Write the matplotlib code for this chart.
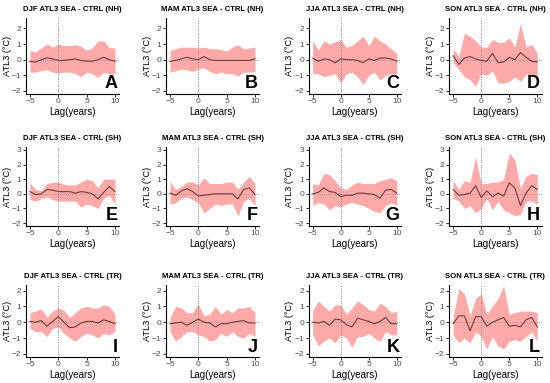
import matplotlib
matplotlib.use("Agg")
import matplotlib.pyplot as plt
import numpy as np

plt.rcParams['font.family'] = ['Liberation Sans', 'DejaVu Sans']

lags = list(range(-5, 11))

titles = ["DJF ATL3 SEA - CTRL (NH)", "MAM ATL3 SEA - CTRL (NH)", "JJA ATL3 SEA - CTRL (NH)", "SON ATL3 SEA - CTRL (NH)",
          "DJF ATL3 SEA - CTRL (SH)", "MAM ATL3 SEA - CTRL (SH)", "JJA ATL3 SEA - CTRL (SH)", "SON ATL3 SEA - CTRL (SH)",
          "DJF ATL3 SEA - CTRL (TR)", "MAM ATL3 SEA - CTRL (TR)", "JJA ATL3 SEA - CTRL (TR)", "SON ATL3 SEA - CTRL (TR)"]
letters = ["A", "B", "C", "D", "E", "F", "G", "H", "I", "J", "K", "L"]

mean_A = [-0.12, -0.15, 0.0, 0.12, 0.05, -0.05, -0.05, 0.0, 0.05, -0.05, -0.1, -0.1, 0.0, 0.15, 0.0, -0.1]
upper_A = [0.6, 0.5, 0.75, 1.0, 0.8, 1.0, 0.9, 0.9, 0.95, 0.85, 0.6, 0.75, 1.2, 1.2, 0.75, 0.75]
lower_A = [-0.8, -0.8, -0.7, -0.65, -0.8, -0.85, -0.8, -0.8, -0.9, -1.1, -0.8, -0.9, -1.15, -0.8, -0.9, -0.9]

mean_B = [-0.12, -0.05, 0.05, 0.15, 0.05, 0.0, 0.2, 0.0, -0.05, -0.05, -0.05, -0.05, -0.05, -0.05, -0.05, 0.05]
upper_B = [0.6, 0.7, 0.8, 0.8, 0.8, 0.75, 0.8, 0.7, 0.7, 0.65, 0.55, 0.8, 0.95, 0.7, 0.75, 0.8]
lower_B = [-0.8, -0.7, -0.6, -0.65, -0.75, -0.6, -0.5, -0.75, -0.9, -0.8, -0.9, -0.9, -1.05, -0.8, -0.8, -0.75]

mean_C = [0.1, -0.1, 0.05, 0.0, -0.2, 0.05, 0.0, 0.0, -0.05, -0.2, 0.05, -0.05, 0.1, 0.1, 0.05, -0.1]
upper_C = [1.2, 0.6, 1.2, 1.0, 1.15, 1.25, 0.8, 0.9, 1.2, 1.5, 0.9, 1.5, 1.2, 1.0, 0.7, 0.4]
lower_C = [-0.9, -0.9, -1.1, -1.0, -0.9, -1.5, -0.9, -0.8, -1.1, -1.6, -1.0, -0.8, -1.3, -1.0, -0.9, -0.9]

mean_D = [0.25, -0.3, 0.1, 0.2, 0.05, -0.05, -0.1, 0.4, -0.2, -0.15, 0.15, 0.0, 0.45, 0.15, -0.1, -0.15]
upper_D = [0.7, 0.2, 1.7, 1.5, 1.2, 0.8, 0.8, 1.3, 1.1, 1.1, 1.4, 0.8, 2.3, 0.8, 1.0, 0.4]
lower_D = [-0.2, -0.6, -1.1, -1.3, -1.7, -0.9, -1.0, -0.7, -1.5, -1.5, -1.4, -1.1, -1.4, -0.9, -1.0, -1.2]

mean_E = [0.15, -0.05, 0.0, 0.3, 0.25, 0.15, 0.15, 0.15, 0.05, 0.15, 0.1, 0.0, -0.35, 0.1, 0.5, 0.15]
upper_E = [0.75, 0.3, 0.2, 0.7, 0.8, 0.8, 0.65, 0.6, 0.6, 0.8, 1.0, 0.9, 0.4, 1.0, 1.0, 1.0]
lower_E = [-0.4, -0.5, -0.3, -0.2, -0.4, -0.5, -0.5, -0.5, -0.5, -0.9, -0.7, -0.8, -1.0, -0.3, -0.1, -0.7]

mean_F = [0.05, -0.1, 0.2, 0.35, 0.15, -0.15, -0.1, -0.05, 0.0, 0.0, 0.0, 0.0, -0.35, 0.3, 0.4, -0.05]
upper_F = [0.8, 0.3, 0.5, 0.8, 0.8, 0.6, 1.1, 0.7, 0.7, 0.7, 0.8, 0.8, 0.3, 0.8, 1.2, 0.7]
lower_F = [-0.7, -0.6, -0.3, -0.2, -0.4, -0.6, -1.3, -1.0, -0.7, -0.8, -0.7, -0.7, -1.5, -0.5, -0.3, -0.8]

mean_G = [0.0, 0.1, 0.4, 0.15, 0.1, -0.2, -0.1, -0.1, 0.05, 0.05, 0.0, -0.05, -0.3, 0.25, 0.3, 0.05]
upper_G = [0.7, 0.6, 1.4, 1.3, 0.9, 0.4, 0.3, 0.6, 0.8, 0.7, 0.7, 0.7, 0.9, 1.0, 1.1, 0.9]
lower_G = [-0.8, -0.6, -0.7, -1.1, -0.8, -0.9, -0.7, -0.6, -0.7, -0.8, -1.0, -1.2, -1.3, -0.8, -0.6, -0.8]

mean_H = [0.3, -0.1, -0.05, 0.05, 0.55, -0.25, 0.2, -0.2, 0.05, -0.15, 0.75, 0.4, -0.8, 0.05, 0.55, 0.3]
upper_H = [0.9, 0.3, 0.9, 0.8, 2.5, 0.7, 0.7, 0.8, 0.8, 1.0, 2.8, 2.3, 0.4, 1.2, 1.4, 1.3]
lower_H = [-0.3, -0.5, -1.0, -0.8, -1.3, -1.0, -0.3, -1.1, -0.5, -1.1, -1.3, -1.5, -1.4, -0.5, -0.5, -0.7]

mean_I = [0.05, 0.0, 0.1, -0.25, 0.05, 0.35, 0.0, -0.35, -0.3, -0.05, 0.05, 0.05, -0.05, 0.15, 0.05, -0.1]
upper_I = [0.6, 0.7, 0.85, 0.3, 0.7, 0.9, 0.75, 0.3, 0.6, 0.9, 1.0, 0.9, 0.9, 1.1, 1.0, 0.5]
lower_I = [-0.4, -0.6, -0.6, -0.9, -0.4, -0.3, -0.7, -1.0, -1.2, -0.9, -0.7, -0.8, -1.0, -0.7, -0.8, -0.6]

mean_J = [-0.1, -0.05, 0.0, -0.2, 0.0, 0.2, 0.0, -0.05, -0.3, -0.1, -0.1, 0.0, 0.05, 0.1, -0.05, -0.05]
upper_J = [0.3, 1.0, 0.9, 0.6, 0.6, 1.15, 0.4, 0.5, 1.0, 0.5, 0.8, 0.6, 0.9, 0.9, 1.0, 0.6]
lower_J = [-0.6, -1.2, -0.9, -0.6, -0.6, -0.8, -0.9, -1.2, -1.1, -0.7, -0.9, -0.6, -0.9, -1.0, -0.7, -0.9]

mean_K = [0.0, -0.05, 0.05, -0.2, 0.2, 0.15, -0.15, -0.3, 0.25, 0.15, 0.05, -0.1, 0.05, 0.3, -0.1, -0.1]
upper_K = [0.7, 1.35, 1.0, 0.7, 1.1, 1.1, 0.5, 0.9, 1.35, 1.1, 0.8, 0.7, 1.2, 1.0, 0.6, 0.7]
lower_K = [-0.8, -1.5, -1.2, -1.0, -1.3, -0.8, -1.0, -1.6, -0.9, -0.9, -0.7, -1.0, -1.2, -0.6, -0.8, -0.8]

mean_L = [-0.1, 0.4, 0.4, -0.55, 0.35, 0.35, -0.25, 0.0, 0.15, 0.3, -0.25, -0.2, -0.3, 0.15, 0.3, -0.3]
upper_L = [0.4, 2.1, 1.8, 0.4, 1.5, 1.8, 0.5, 1.0, 1.5, 2.3, 0.5, 0.6, 0.7, 0.7, 0.7, 0.6]
lower_L = [-0.8, -1.3, -1.0, -1.3, -0.6, -0.9, -1.7, -0.9, -1.5, -1.7, -1.2, -1.1, -1.2, -0.9, -0.6, -1.2]

means = [mean_A, mean_B, mean_C, mean_D, mean_E, mean_F, mean_G, mean_H, mean_I, mean_J, mean_K, mean_L]
uppers = [upper_A, upper_B, upper_C, upper_D, upper_E, upper_F, upper_G, upper_H, upper_I, upper_J, upper_K, upper_L]
lowers = [lower_A, lower_B, lower_C, lower_D, lower_E, lower_F, lower_G, lower_H, lower_I, lower_J, lower_K, lower_L]

row_yticks = [[-2, -1, 0, 1, 2], [-2, -1, 0, 1, 2, 3], [-2, -1, 0, 1, 2]]
row_ylim = [(-2.2, 2.7), (-2.2, 3.2), (-2.2, 2.35)]

W, H = 550, 383
fig = plt.figure(figsize=(W / 100, H / 100), dpi=100)

col_px = [(25.75, 119.25), (165.75, 259.25), (308.5, 401.0), (449.0, 541.5)]
row_px = [(17.5, 94.0), (147.0, 226.0), (285.0, 357.0)]

fill_col = "#ffa9a9"
line_col = "#6e3c3c"

for i in range(12):
    r, c = divmod(i, 4)
    x0, x1 = col_px[c]
    y0, y1 = row_px[r]
    ax = fig.add_axes([x0 / W, 1 - y1 / H, (x1 - x0) / W, (y1 - y0) / H])
    ax.fill_between(lags, lowers[i], uppers[i], color=fill_col, lw=0)
    ax.axhline(0, color="#888888", lw=0.6, ls=(0, (1, 1.5)))
    ax.axvline(0, color="#888888", lw=0.7, ls=(0, (1, 1.5)))
    ax.plot(lags, means[i], color=line_col, lw=0.8)
    ax.set_xlim(-5.75, 10.75)
    ax.set_ylim(*row_ylim[r])
    ax.set_xticks([-5, 0, 5, 10])
    ax.set_yticks(row_yticks[r])
    ax.spines['top'].set_visible(False)
    ax.spines['right'].set_visible(False)
    for s in ('left', 'bottom'):
        ax.spines[s].set_linewidth(0.8)
        ax.spines[s].set_color('black')
    ax.tick_params(labelsize=6, length=2, width=0.6, pad=1.2, colors='black', labelcolor='#4d4d4d')
    ax.set_title(titles[i], fontsize=5.6, fontweight='bold', pad=5)
    ax.set_xlabel("Lag(years)", fontsize=7, labelpad=1)
    ax.set_ylabel("ATL3 (°C)", fontsize=6.6)
    ax.yaxis.set_label_coords(-14.0 / (x1 - x0), 0.5)
    ax.text(0.985, 0.02, letters[i], transform=ax.transAxes, ha='right', va='bottom',
            fontsize=13, fontweight='bold', color='black')

fig.savefig("out.png", dpi=100)
